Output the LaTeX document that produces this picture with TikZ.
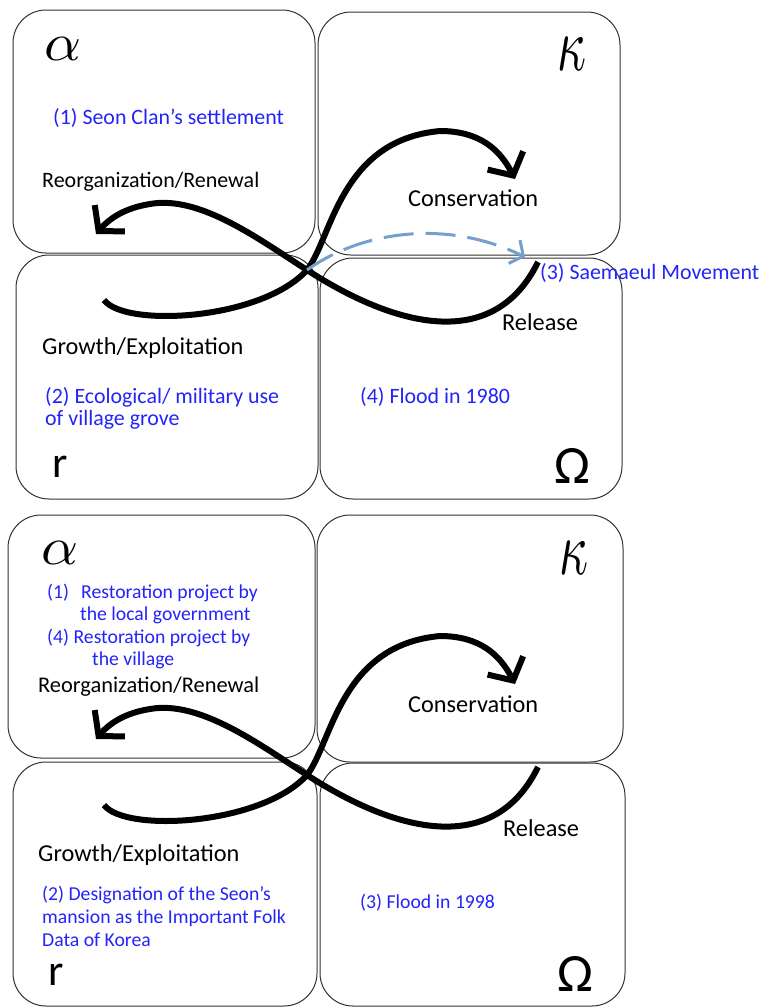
\documentclass[tikz,border=0pt]{standalone}
\usepackage{fontspec}
\setmainfont{Carlito}
\usetikzlibrary{arrows.meta}
\definecolor{notes}{RGB}{35,35,250}
\definecolor{flow}{RGB}{115,160,205}
\definecolor{frame}{RGB}{50,50,50}

% the two cycle loops of one panel, shifted down by #2
\newcommand\cycleloops[2]{%
  \begin{scope}[shift={(0,#2)}, name prefix=#1-]
    \coordinate (gs) at (104,300);   % start of the growth loop
    \coordinate (cx) at (307,270);   % crossing of the two loops
    \coordinate (ct) at (515,179);   % tip at conservation
    \coordinate (rs) at (538,262);   % start of the release loop
    \coordinate (rt) at (96,234);    % tip at reorganization
    \draw[loop] (gs) .. controls (125,328) and (262,320) .. (cx)
                     .. controls (332,238) and (340,140) .. (440,131)
                     .. controls (480,131) and (500,150) .. (ct);
    \draw[loop] (rs) .. controls (495,350) and (400,330) .. (cx)
                     .. controls (260,240) and (200,195) .. (150,204)
                     .. controls (125,208) and (110,218) .. (rt);
  \end{scope}}

\begin{document}
\begin{tikzpicture}[x=1pt,y=-1pt,
  phase/.style={draw=frame,line width=1pt,rounded corners=33pt},
  lab/.style={inner sep=0pt,anchor=west,font=\fontsize{24.3}{28}\selectfont},
  labsm/.style={inner sep=0pt,anchor=west,font=\fontsize{22}{26}\selectfont},
  note/.style={inner sep=0pt,anchor=west,text=notes,font=\fontsize{21.9}{26}\selectfont},
  notesm/.style={inner sep=0pt,anchor=west,text=notes,font=\fontsize{19.7}{23}\selectfont},
  sym/.style={inner sep=0pt},
  loop/.style={line width=6pt,-{Straight Barb[length=17pt,width=40pt]}},
  flowline/.style={draw=flow,line width=3pt,dash pattern=on 30pt off 12pt,
    -{Straight Barb[length=10pt,width=26pt]}}]
\useasboundingbox (0,0) rectangle (764,1007);

% ---------- upper panel ----------
\draw[phase] (13,10) rectangle (315,253);
\draw[phase] (318,12) rectangle (620,255);
\draw[phase] (16,255) rectangle (318,499);
\draw[phase] (320,258) rectangle (622,499);

\node[sym] (a1) at (63.5,48.5) {\resizebox{37pt}{23pt}{$\alpha$}};
\node[sym] (k1) at (572,53.5) {\resizebox{29pt}{33pt}{$\kappa$}};
\node[sym] (r1) at (60,467) {\fontsize{44}{44}\selectfont r};
\node[sym] (o1) at (572,465.5) {\fontsize{54}{54}\selectfont Ω};

\node[note] (seon) at (53,118) {(1) Seon Clan’s settlement};
\node[labsm] (reorg1) at (42,182) {Reorganization/Renewal};
\node[lab] (cons1) at (408,198) {Conservation};
\node[note] (saem) at (540,273) {(3) Saemaeul Movement};
\node[lab] (rel1) at (502,322) {Release};
\node[lab] (grow1) at (42,348) {Growth/Exploitation};
\node[note] (eco1) at (45,397) {(2) Ecological/ military use};
\node[note] (eco2) at (45,420) {of village grove};
\node[note] (fl80) at (360,397) {(4) Flood in 1980};

\cycleloops{up}{0}
\coordinate (st) at (525,257);
\draw[flowline] (up-cx) .. controls (360,232) and (445,218) .. (st);

% ---------- lower panel ----------
\draw[phase] (8,515) rectangle (315,758);
\draw[phase] (317,515) rectangle (623,762);
\draw[phase] (13,762) rectangle (317,1006);
\draw[phase] (320,763) rectangle (625,1006);

\node[sym] (a2) at (60,552.5) {\resizebox{37pt}{23pt}{$\alpha$}};
\node[sym] (k2) at (574,557.5) {\resizebox{29pt}{33pt}{$\kappa$}};
\node[sym] (r2) at (56.5,975) {\fontsize{44}{44}\selectfont r};
\node[sym] (o2) at (575,973.5) {\fontsize{54}{54}\selectfont Ω};

\node[notesm] (res1n) at (47,593) {(1)};
\node[notesm] (res1a) at (81,593) {Restoration project by};
\node[notesm] (res1b) at (80,615) {the local government};
\node[notesm] (res4a) at (47,638) {(4) Restoration project by};
\node[notesm] (res4b) at (92,660) {the village};
\node[labsm,font=\fontsize{22.4}{26}\selectfont] (reorg2) at (38,687) {Reorganization/Renewal};
\node[lab] (cons2) at (408,704) {Conservation};
\node[lab] (rel2) at (503,828) {Release};
\node[lab] (grow2) at (38,855) {Growth/Exploitation};
\node[notesm] (des1) at (42,895) {(2) Designation of the Seon’s};
\node[notesm] (des2) at (42,918) {mansion as the Important Folk};
\node[notesm] (des3) at (42,940) {Data of Korea};
\node[notesm] (fl98) at (360,903) {(3) Flood in 1998};

\cycleloops{lo}{505}
\end{tikzpicture}
\end{document}
